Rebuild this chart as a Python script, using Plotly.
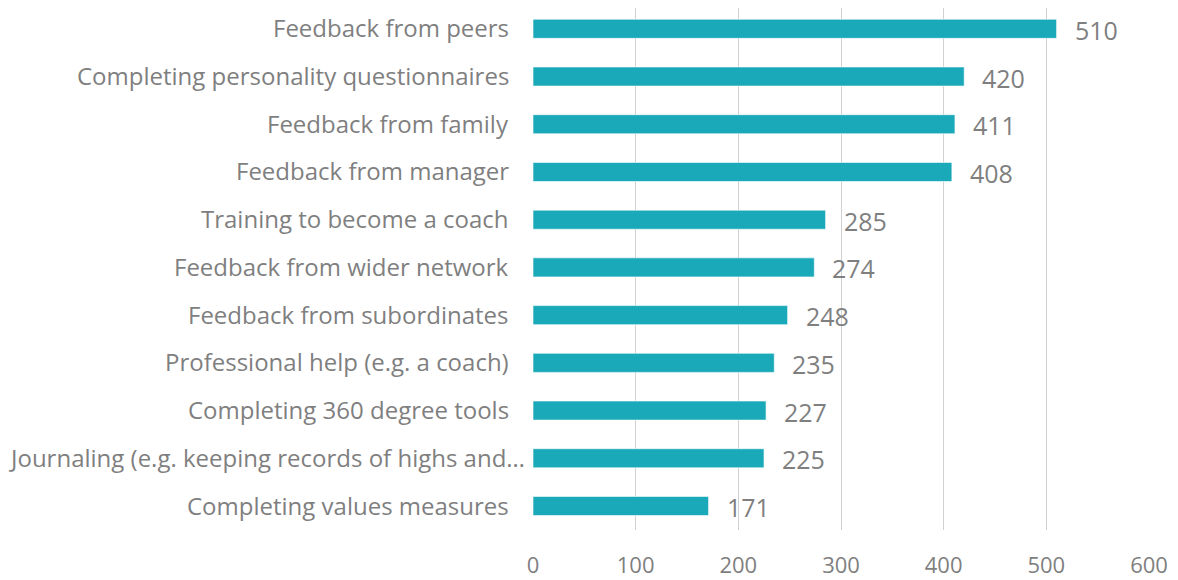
import plotly.graph_objects as go

categories = [
    "Feedback from peers",
    "Completing personality questionnaires",
    "Feedback from family",
    "Feedback from manager",
    "Training to become a coach",
    "Feedback from wider network",
    "Feedback from subordinates",
    "Professional help (e.g. a coach)",
    "Completing 360 degree tools",
    "Journaling (e.g. keeping records of highs and…",
    "Completing values measures",
]
values = [510, 420, 411, 408, 285, 274, 248, 235, 227, 225, 171]
tick_vals = [0, 100, 200, 300, 400, 500, 600]

BAR = "#1aa9b8"
TXT = "#7f7f7f"
GRID = "#d0d0d0"

fig = go.Figure(go.Bar(
    x=values, y=categories, orientation="h",
    marker=dict(color=BAR, line=dict(color="rgba(255,255,255,0.6)", width=1)),
    width=0.4,
    hoverinfo="skip",
    cliponaxis=False,
))

# value labels
for c, v in zip(categories, values):
    fig.add_annotation(x=v, y=c, text=str(v), showarrow=False, xanchor="left",
                       xshift=16, yshift=-1, font=dict(size=25, color=TXT))

# category labels (truncated long label sits closer to the axis, as in the source)
for c in categories:
    shift = -6 if c.endswith("…") else -22
    fig.add_annotation(xref="paper", x=0, y=c, text=c, showarrow=False,
                       xanchor="right", xshift=shift, yshift=1,
                       font=dict(size=24, color=TXT))

fig.update_layout(
    width=1178, height=580,
    margin=dict(l=525, r=37, t=0, b=58, autoexpand=False),
    paper_bgcolor="white", plot_bgcolor="white",
    font=dict(family="Open Sans", size=22, color=TXT),
    showlegend=False,
    xaxis=dict(range=[0, 600], tickvals=tick_vals, showgrid=True, gridcolor=GRID,
               gridwidth=1, zeroline=False, showline=False, automargin=False,
               tickfont=dict(size=22, color=TXT), ticklabelstandoff=20,
               fixedrange=True),
    yaxis=dict(categoryorder="array", categoryarray=categories[::-1],
               range=[-0.503, 10.436], showgrid=False, zeroline=False,
               showline=False, automargin=False, showticklabels=False,
               fixedrange=True),
)

fig.write_html("out.html")
